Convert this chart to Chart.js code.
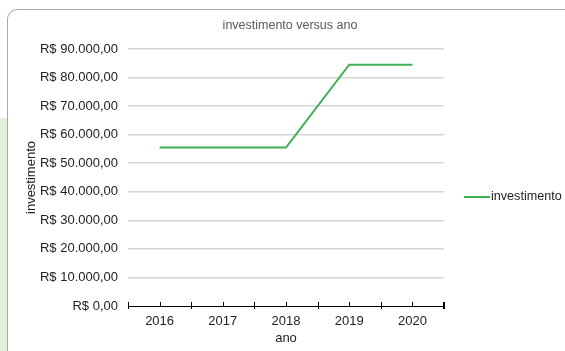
<head>
<meta charset="utf-8">
<script src="https://cdn.jsdelivr.net/npm/chart.js@4.4.1/dist/chart.umd.min.js"></script>
<style>
body{margin:0;width:565px;height:351px;overflow:hidden;background:#fff;position:relative;font-family:"Liberation Sans",Arial,sans-serif;}
#strip{position:absolute;left:0;top:118px;width:7px;height:233px;background:#e2eed8;}
#frame{position:absolute;left:7px;top:9px;width:600px;height:400px;border-left:1px solid #a8a8a8;border-top:1px solid #a8a8a8;border-top-left-radius:10px;}
#box{position:absolute;left:0;top:0;width:565px;height:351px;}
</style>
</head>
<body>
<div id="strip"></div>
<div id="frame"></div>
<div id="box"><canvas id="grafico" width="565" height="351"></canvas></div>
<script>
// dados do gráfico
var anos = ['2016', '2017', '2018', '2019', '2020'];
var investimento = [55500, 55500, 55500, 84500, 84500];
var yMin = 0, yMax = 90000, yPasso = 10000;
var titulo = 'investimento versus ano';
var corLinha = '#3fae55';
var fonte = '"Liberation Sans", Arial, sans-serif';

function moeda(v){
  var s = Math.round(v).toString().replace(/\B(?=(\d{3})+(?!\d))/g, '.');
  return 'R$ ' + s + ',00';
}

// título, marcas do eixo x (acima e abaixo da linha) e legenda
var extras = {
  id: 'extras',
  afterDraw: function(chart){
    var ctx = chart.ctx, x = chart.scales.x, a = chart.chartArea;
    var meio = (x.getPixelForValue(1) - x.getPixelForValue(0)) / 2;
    ctx.save();
    ctx.fillStyle = '#595959';
    ctx.font = '12.5px ' + fonte;
    ctx.textAlign = 'center';
    ctx.textBaseline = 'middle';
    ctx.fillText(titulo, 290, 26);

    ctx.strokeStyle = '#000';
    ctx.lineWidth = 1;
    for (var i = 0; i < anos.length; i++){
      var c = x.getPixelForValue(i);
      ctx.beginPath();
      ctx.moveTo(Math.round(c) + 0.5, a.bottom - 4);
      ctx.lineTo(Math.round(c) + 0.5, a.bottom + 1);
      ctx.stroke();
      var b = Math.round(c - meio) + 0.5;
      ctx.beginPath();
      ctx.moveTo(b, a.bottom - 4);
      ctx.lineTo(b, a.bottom + 3);
      ctx.stroke();
    }
    var fim = Math.round(x.getPixelForValue(anos.length - 1) + meio);
    ctx.lineWidth = 2;
    ctx.beginPath();
    ctx.moveTo(fim, a.bottom - 4);
    ctx.lineTo(fim, a.bottom + 3);
    ctx.stroke();

    var ds = chart.data.datasets[0];
    ctx.strokeStyle = ds.borderColor;
    ctx.lineWidth = 2;
    ctx.beginPath();
    ctx.moveTo(464, 197);
    ctx.lineTo(490, 197);
    ctx.stroke();
    ctx.fillStyle = '#222';
    ctx.font = '12.6px ' + fonte;
    ctx.textAlign = 'left';
    ctx.fillText(ds.label, 491, 197);
    ctx.restore();
  }
};

new Chart(document.getElementById('grafico'), {
  type: 'line',
  data: {
    labels: anos,
    datasets: [{
      label: 'investimento',
      data: investimento,
      borderColor: corLinha,
      borderWidth: 2,
      pointRadius: 0,
      tension: 0,
      fill: false
    }]
  },
  options: {
    responsive: false,
    animation: false,
    layout: { padding: { left: 0, right: 121, top: 49, bottom: 0 } },
    plugins: {
      legend: { display: false },
      tooltip: { enabled: false },
      title: { display: false }
    },
    scales: {
      x: {
        offset: true,
        grid: { display: false, drawTicks: false },
        border: { display: true, color: '#000', width: 1 },
        ticks: { color: '#222', padding: 8, font: { family: fonte, size: 13 } },
        title: { display: true, text: 'ano', color: '#222', padding: { top: 2, bottom: 5 },
                 font: { family: fonte, size: 13 } },
        afterFit: function(s){ s.height = 45; }
      },
      y: {
        min: yMin,
        max: yMax,
        ticks: { stepSize: yPasso, color: '#222', padding: 10, callback: function(v){ return moeda(v); },
                 font: { family: fonte, size: 13 } },
        grid: {
          drawTicks: false,
          lineWidth: 1.5,
          color: function(c){ return c.tick && c.tick.value === 0 ? 'rgba(0,0,0,0)' : '#d6d6d6'; }
        },
        border: { display: false },
        title: { display: true, text: 'investimento', color: '#222', padding: { top: 24, bottom: 0 },
                 font: { family: fonte, size: 13 } },
        afterFit: function(s){ s.width = 128; }
      }
    }
  },
  plugins: [extras]
});
</script>
</body>
